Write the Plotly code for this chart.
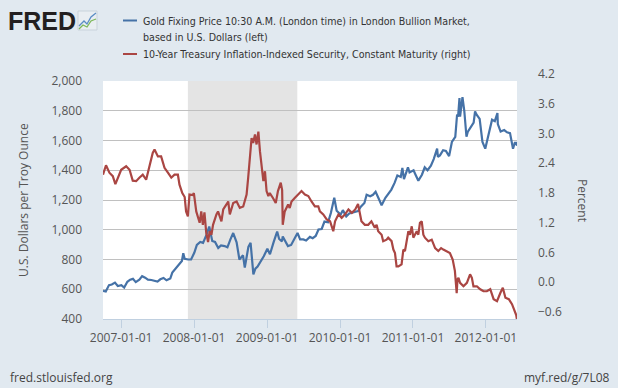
import plotly.graph_objects as go

# ---------------- data ----------------
gold_dates = [
    "2006-10-02", "2006-10-16", "2006-11-01", "2006-11-15", "2006-12-01", "2006-12-15",
    "2007-01-02", "2007-01-16", "2007-02-01", "2007-02-15", "2007-03-01", "2007-03-15",
    "2007-04-02", "2007-04-16", "2007-05-01", "2007-05-15", "2007-06-01", "2007-06-15",
    "2007-07-02", "2007-07-16", "2007-08-01", "2007-08-16", "2007-09-04", "2007-09-14",
    "2007-10-01", "2007-10-15", "2007-11-01", "2007-11-08", "2007-11-15", "2007-12-03",
    "2007-12-17", "2008-01-02", "2008-01-15", "2008-02-01", "2008-02-15", "2008-03-03",
    "2008-03-17", "2008-04-01", "2008-04-15", "2008-05-01", "2008-05-15", "2008-06-02",
    "2008-06-16", "2008-07-01", "2008-07-15", "2008-08-01", "2008-08-15", "2008-09-02",
    "2008-09-11", "2008-09-29", "2008-10-10", "2008-10-24", "2008-11-03", "2008-11-14",
    "2008-12-01", "2008-12-15", "2009-01-02", "2009-01-15", "2009-02-02", "2009-02-20",
    "2009-03-02", "2009-03-16", "2009-03-20", "2009-04-01", "2009-04-15", "2009-05-01",
    "2009-05-15", "2009-06-02", "2009-06-15", "2009-07-01", "2009-07-15", "2009-08-03",
    "2009-08-17", "2009-09-01", "2009-09-15", "2009-10-01", "2009-10-15", "2009-11-02",
    "2009-11-16", "2009-12-03", "2009-12-15", "2010-01-04", "2010-01-15", "2010-02-01",
    "2010-02-16", "2010-03-01", "2010-03-15", "2010-04-01", "2010-04-15", "2010-05-03",
    "2010-05-14", "2010-06-01", "2010-06-15", "2010-06-28", "2010-07-15", "2010-07-28",
    "2010-08-16", "2010-09-01", "2010-09-15", "2010-10-01", "2010-10-15", "2010-11-01",
    "2010-11-09", "2010-11-17", "2010-12-01", "2010-12-07", "2010-12-15", "2011-01-04",
    "2011-01-14", "2011-01-28", "2011-02-15", "2011-03-01", "2011-03-15", "2011-04-01",
    "2011-04-15", "2011-05-02", "2011-05-06", "2011-05-16", "2011-06-01", "2011-06-15",
    "2011-07-01", "2011-07-15", "2011-08-01", "2011-08-10", "2011-08-15", "2011-08-22",
    "2011-08-25", "2011-09-01", "2011-09-06", "2011-09-15", "2011-09-26", "2011-10-03",
    "2011-10-14", "2011-11-01", "2011-11-08", "2011-11-15", "2011-12-01", "2011-12-15",
    "2011-12-29", "2012-01-16", "2012-02-01", "2012-02-15", "2012-02-28", "2012-03-01",
    "2012-03-15", "2012-04-02", "2012-04-16", "2012-05-01", "2012-05-16", "2012-05-25",
    "2012-06-01", "2012-06-05",
]
gold_values = [
    590, 585, 628, 632, 645, 622,
    628, 612, 650, 664, 670, 648,
    665, 688, 678, 665, 662, 656,
    652, 667, 676, 660, 672, 712,
    742, 762, 790, 842, 805, 800,
    800, 845, 898, 918, 912, 965,
    1022, 925, 918, 878, 895, 890,
    882, 935, 978, 915, 800, 828,
    745, 885, 912, 700, 738, 752,
    788, 822, 872, 835, 915, 988,
    938, 922, 955, 922, 890, 898,
    932, 978, 935, 935, 928, 952,
    943, 958, 1002, 1005, 1055, 1050,
    1112, 1215, 1128, 1102, 1132, 1090,
    1110, 1116, 1120, 1125, 1155, 1180,
    1235, 1225, 1235, 1255, 1205, 1165,
    1215, 1248, 1270, 1315, 1365, 1355,
    1415, 1340, 1390, 1420, 1385, 1400,
    1370, 1330, 1370, 1420, 1400, 1430,
    1475, 1545, 1490, 1500, 1535, 1530,
    1495, 1590, 1625, 1775, 1760, 1885,
    1760, 1830, 1892, 1800, 1625, 1660,
    1680, 1720, 1795, 1775, 1745, 1590,
    1545, 1645, 1740, 1730, 1785, 1710,
    1660, 1670, 1655, 1650, 1545, 1585,
    1585, 1565,
]

tips_dates = [
    "2006-10-02", "2006-10-17", "2006-11-03", "2006-11-20", "2006-12-03", "2006-12-15",
    "2007-01-01", "2007-01-26", "2007-02-12", "2007-02-28", "2007-03-17", "2007-04-02",
    "2007-04-19", "2007-05-06", "2007-05-22", "2007-06-08", "2007-06-17", "2007-07-04",
    "2007-07-20", "2007-08-06", "2007-08-23", "2007-09-09", "2007-09-25", "2007-10-12",
    "2007-10-20", "2007-11-03", "2007-11-15", "2007-11-22", "2007-12-01", "2007-12-09",
    "2007-12-26", "2007-12-31", "2008-01-12", "2008-01-22", "2008-01-29", "2008-02-06",
    "2008-02-14", "2008-02-22", "2008-03-02", "2008-03-11", "2008-03-19", "2008-03-28",
    "2008-04-05", "2008-04-22", "2008-04-30", "2008-05-17", "2008-05-26", "2008-06-11",
    "2008-06-20", "2008-06-28", "2008-07-15", "2008-08-01", "2008-08-17", "2008-09-03",
    "2008-09-20", "2008-09-28", "2008-10-07", "2008-10-15", "2008-10-23", "2008-11-01",
    "2008-11-09", "2008-11-18", "2008-11-26", "2008-12-04", "2008-12-13", "2008-12-21",
    "2008-12-29", "2009-01-07", "2009-01-14", "2009-01-30", "2009-02-13", "2009-02-24",
    "2009-03-10", "2009-03-17", "2009-03-20", "2009-03-30", "2009-04-16", "2009-04-24",
    "2009-05-03", "2009-05-19", "2009-06-05", "2009-06-22", "2009-07-09", "2009-07-26",
    "2009-08-11", "2009-08-28", "2009-09-14", "2009-09-22", "2009-10-09", "2009-10-26",
    "2009-11-12", "2009-11-28", "2009-12-07", "2009-12-24", "2010-01-09", "2010-01-26",
    "2010-02-12", "2010-03-01", "2010-03-18", "2010-04-01", "2010-04-18", "2010-05-05",
    "2010-05-22", "2010-06-07", "2010-06-24", "2010-07-03", "2010-07-11", "2010-07-28",
    "2010-08-05", "2010-08-22", "2010-08-30", "2010-09-16", "2010-09-25", "2010-10-03",
    "2010-10-11", "2010-10-20", "2010-11-05", "2010-11-14", "2010-11-22", "2010-12-09",
    "2010-12-17", "2010-12-26", "2011-01-03", "2011-01-20", "2011-01-28", "2011-02-05",
    "2011-02-14", "2011-02-22", "2011-03-02", "2011-03-19", "2011-04-05", "2011-04-22",
    "2011-05-08", "2011-05-22", "2011-06-02", "2011-06-18", "2011-07-05", "2011-07-19",
    "2011-07-30", "2011-08-08", "2011-08-12", "2011-08-17", "2011-08-25", "2011-09-11",
    "2011-09-28", "2011-10-14", "2011-10-23", "2011-10-31", "2011-11-17", "2011-12-04",
    "2011-12-20", "2012-01-06", "2012-01-23", "2012-02-09", "2012-02-26", "2012-03-14",
    "2012-03-26", "2012-04-08", "2012-04-25", "2012-05-11", "2012-05-23", "2012-06-01",
    "2012-06-05",
]
tips_values = [
    2.31, 2.50, 2.35, 2.28, 2.12, 2.25,
    2.41, 2.48, 2.41, 2.19, 2.18, 2.25,
    2.31, 2.21, 2.45, 2.75, 2.82, 2.68,
    2.68, 2.45, 2.35, 2.25, 2.31, 2.31,
    2.11, 1.94, 1.86, 1.57, 1.47, 1.91,
    1.90, 1.94, 1.57, 1.44, 1.34, 1.57,
    1.30, 1.55, 1.14, 0.95, 1.17, 1.10,
    1.30, 1.51, 1.57, 1.37, 1.61, 1.71,
    1.77, 1.51, 1.74, 1.77, 1.64, 1.67,
    1.91, 2.25, 2.65, 3.05, 2.95, 3.12,
    2.92, 3.18, 2.78, 2.45, 2.18, 2.38,
    1.98, 1.88, 1.94, 1.84, 1.74, 1.98,
    2.15, 2.00, 1.30, 1.57, 1.71, 1.64,
    1.77, 1.84, 1.91, 1.98, 1.91, 1.88,
    1.77, 1.67, 1.67, 1.57, 1.51, 1.41,
    1.37, 1.17, 1.37, 1.51, 1.44, 1.51,
    1.61, 1.54, 1.61, 1.72, 1.37, 1.30,
    1.30, 1.37, 1.24, 1.30, 1.17, 1.10,
    0.97, 1.00, 1.04, 0.97, 0.80, 0.73,
    0.46, 0.46, 0.50, 0.80, 0.77, 1.17,
    1.10, 1.27, 1.04, 1.17, 1.10, 1.34,
    1.37, 1.10, 1.04, 0.97, 1.00, 0.83,
    0.77, 0.83, 0.80, 0.77, 0.73, 0.60,
    0.37, -0.08, 0.20, 0.23, 0.13, 0.06,
    0.13, 0.30, 0.23, 0.06, 0.06, 0.00,
    -0.04, -0.04, 0.00, -0.20, -0.24, -0.07,
    0.03, -0.17, -0.20, -0.30, -0.41, -0.52,
    -0.62,
]

recession_start = "2007-12-01"
recession_end = "2009-06-01"

x_range = ["2006-10-02", "2012-06-05"]
x_tick_vals = ["2007-01-01", "2008-01-01", "2009-01-01", "2010-01-01", "2011-01-01", "2012-01-01"]
x_tick_text = ["2007-01-01", "2008-01-01", "2009-01-01", "2010-01-01", "2011-01-01", "2012-01-01"]
left_ticks = [400, 600, 800, 1000, 1200, 1400, 1600, 1800, 2000]
right_ticks = [-0.6, 0.0, 0.6, 1.2, 1.8, 2.4, 3.0, 3.6, 4.2]

gold_label_1 = "Gold Fixing Price 10:30 A.M. (London time) in London Bullion Market,"
gold_label_2 = "based in U.S. Dollars (left)"
tips_label = "10-Year Treasury Inflation-Indexed Security, Constant Maturity (right)"
left_title = "U.S. Dollars per Troy Ounce"
right_title = "Percent"
source_text = "fred.stlouisfed.org"
link_text = "myf.red/g/7L08"

# ---------------- styles / layout ----------------
W, H = 618, 388
L, R, T, B = 103, 101, 81, 69
PW, PH = W - L - R, H - T - B
BLUE, RED = "#4572A7", "#AA4643"
BG = "#E1E9F0"
TICK_FONT = dict(family="Open Sans, DejaVu Sans, sans-serif", size=12, color="#555555")
LEG_FONT = dict(family="DejaVu Sans Condensed, Roboto, sans-serif", size=10.6, color="#333333")


def px(xp):
    return (xp - L) / PW


def py(yp):
    return (H - B - yp) / PH


fig = go.Figure()
fig.add_trace(go.Scatter(x=gold_dates, y=gold_values, mode="lines",
                         line=dict(color=BLUE, width=2.2), yaxis="y", showlegend=False))
fig.add_trace(go.Scatter(x=tips_dates, y=tips_values, mode="lines",
                         line=dict(color=RED, width=2.2), yaxis="y2", showlegend=False))

shapes = [
    dict(type="rect", xref="x", yref="paper", x0=recession_start, x1=recession_end,
         y0=0, y1=1, fillcolor="#E4E4E4", line=dict(width=0), layer="below"),
    # legend swatches
    dict(type="line", xref="paper", yref="paper", x0=px(123), x1=px(137), y0=py(20.5), y1=py(20.5),
         line=dict(color=BLUE, width=2)),
    dict(type="line", xref="paper", yref="paper", x0=px(123), x1=px(137), y0=py(54), y1=py(54),
         line=dict(color=RED, width=2)),
    # FRED icon
    dict(type="rect", xref="paper", yref="paper", x0=px(78), x1=px(97), y0=py(30), y1=py(11),
         fillcolor="#E9EEF2", line=dict(color="#C9D3DB", width=1)),
    dict(type="path", xref="paper", yref="paper",
         path="M %f %f L %f %f L %f %f L %f %f L %f %f" % (
             px(79), py(26), px(84), py(21), px(87), py(24), px(91), py(17), px(96), py(13)),
         line=dict(color="#5B8DC4", width=1.3)),
    dict(type="path", xref="paper", yref="paper",
         path="M %f %f L %f %f L %f %f L %f %f L %f %f" % (
             px(79), py(29), px(83), py(25), px(87), py(27), px(91), py(21), px(96), py(19)),
         line=dict(color="#7DB85A", width=1.3)),
]

annotations = [
    dict(text=gold_label_1, x=px(141), y=py(20.5), xref="paper", yref="paper", xanchor="left",
         yanchor="middle", showarrow=False, font=LEG_FONT),
    dict(text=gold_label_2, x=px(141), y=py(37.3), xref="paper", yref="paper", xanchor="left",
         yanchor="middle", showarrow=False, font=LEG_FONT),
    dict(text=tips_label, x=px(141), y=py(54), xref="paper", yref="paper", xanchor="left",
         yanchor="middle", showarrow=False, font=LEG_FONT),
    dict(text="<b>FRED</b>", x=px(6), y=py(21), xref="paper", yref="paper", xanchor="left",
         yanchor="middle", showarrow=False,
         font=dict(family="Liberation Sans, Arial, sans-serif", size=25, color="#231F20")),
    dict(text=left_title, x=px(23), y=py(200), xref="paper", yref="paper", xanchor="center",
         yanchor="middle", showarrow=False, textangle=-90, font=TICK_FONT),
    dict(text=right_title, x=px(583), y=py(200), xref="paper", yref="paper", xanchor="center",
         yanchor="middle", showarrow=False, textangle=90, font=TICK_FONT),
    dict(text=source_text, x=px(8), y=py(377), xref="paper", yref="paper", xanchor="left",
         yanchor="middle", showarrow=False, font=dict(TICK_FONT, color="#444444")),
    dict(text=link_text, x=px(612), y=py(377), xref="paper", yref="paper", xanchor="right",
         yanchor="middle", showarrow=False, font=dict(TICK_FONT, color="#444444")),
]

fig.update_layout(
    width=W, height=H,
    margin=dict(l=L, r=R, t=T, b=B, pad=0),
    paper_bgcolor=BG, plot_bgcolor="white",
    showlegend=False,
    shapes=shapes, annotations=annotations,
    xaxis=dict(type="date", range=x_range, tickvals=x_tick_vals, ticktext=x_tick_text,
               ticks="outside", ticklen=8, tickcolor="#C0D0E0", tickwidth=1,
               showline=True, linecolor="#C0D0E0", linewidth=1, showgrid=False,
               zeroline=False, tickfont=TICK_FONT, fixedrange=True),
    yaxis=dict(range=[400, 2000], tickvals=left_ticks, tickformat=",d", showgrid=True,
               gridcolor="#C0C0C0", gridwidth=1, zeroline=False, showline=False,
               ticks="", ticklabelstandoff=20, tickfont=TICK_FONT),
    yaxis2=dict(range=[-0.6, 4.2], tickvals=right_ticks, tickformat=".1f", overlaying="y",
                side="right", showgrid=False, zeroline=False, showline=False, ticks="",
                ticklabelstandoff=20, ticklabelshift=-7, tickfont=TICK_FONT),
)

fig.write_html("out.html", config={"displayModeBar": False},
               post_script="document.body.style.margin='0';document.body.style.overflow='hidden';")
